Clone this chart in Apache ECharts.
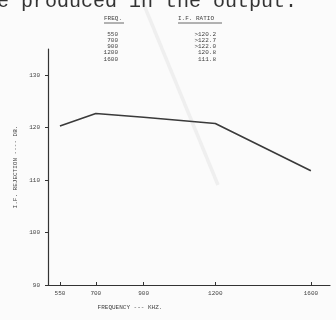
<!DOCTYPE html>
<html><head><meta charset="utf-8">
<script src="https://cdn.jsdelivr.net/npm/echarts@6/dist/echarts.min.js"></script>
<style>html,body{margin:0;padding:0;background:#fbfbfb}#c{width:336px;height:320px}</style>
</head><body><div id="c"></div>
<script>
var frequencies = [550, 700, 900, 1200, 1600];
var rejectionDb = [120.3, 122.7, 122.0, 120.8, 111.8];
var xTicks = [550, 700, 900, 1200, 1600];
var yTicks = [90, 100, 110, 120, 130];
var tableFreq = ['550', '700', '900', '1200', '1600'];
var tableRatio = ['>120.2', '>122.7', '>122.0', '120.8', '111.8'];

var mono = '"Liberation Mono", "DejaVu Sans Mono", monospace';
var ink = '#444';
var chart = echarts.init(document.getElementById('c'), null, {renderer: 'canvas'});

var g = [
  {type: 'line', z: 0, shape: {x1: 142, y1: 0, x2: 218, y2: 185}, style: {stroke: '#efefef', lineWidth: 3.5}},
  {type: 'text', left: -3, top: -8, style: {text: 'e produced in the output.', font: '20px ' + mono, fill: '#333'}},
  {type: 'text', x: 104, y: 15, style: {text: 'FREQ.', font: '6px ' + mono, fill: ink}},
  {type: 'line', shape: {x1: 104, y1: 23, x2: 124, y2: 23}, style: {stroke: ink, lineWidth: 0.8}},
  {type: 'text', x: 178, y: 15, style: {text: 'I.F. RATIO', font: '6px ' + mono, fill: ink}},
  {type: 'line', shape: {x1: 178, y1: 23, x2: 222, y2: 23}, style: {stroke: ink, lineWidth: 0.8}},
  {type: 'text', x: 130, y: 304, style: {text: 'FREQUENCY --- KHZ.', font: '6px ' + mono, fill: ink, align: 'center'}}
];
tableFreq.forEach(function (t, i) {
  g.push({type: 'text', x: 118, y: 31 + i * 6.3, style: {text: t, font: '6px ' + mono, fill: ink, align: 'right'}});
});
tableRatio.forEach(function (t, i) {
  g.push({type: 'text', x: 216, y: 31 + i * 6.3, style: {text: t, font: '6px ' + mono, fill: ink, align: 'right'}});
});

chart.setOption({
  backgroundColor: '#fbfbfb',
  animation: false,
  grid: {left: 48, right: 6, top: 49, bottom: 35},
  xAxis: {
    type: 'value', min: 500, max: 1680,
    axisLine: {lineStyle: {color: '#333', width: 1.2}},
    axisTick: {show: true, inside: true, length: 3, customValues: xTicks, lineStyle: {color: '#333'}},
    splitLine: {show: false},
    axisLabel: {
      customValues: xTicks,
      formatter: function (v) { return String(v); },
      color: ink, fontFamily: mono, fontSize: 6, margin: 5
    }
  },
  yAxis: {
    type: 'value', min: 90, max: 135, interval: 5,
    name: 'I.F. REJECTION ---- DB.', nameLocation: 'middle', nameGap: 25, nameRotate: 90,
    nameTextStyle: {color: ink, fontFamily: mono, fontSize: 6},
    axisLine: {show: true, lineStyle: {color: '#333', width: 1.2}},
    axisTick: {show: true, length: 3, lineStyle: {color: '#333'}, customValues: yTicks},
    splitLine: {show: false},
    axisLabel: {customValues: yTicks, color: ink, fontFamily: mono, fontSize: 6, margin: 8}
  },
  series: [{
    type: 'line',
    data: frequencies.map(function (f, i) { return [f, rejectionDb[i]]; }),
    symbol: 'none',
    lineStyle: {color: '#3a3a3a', width: 1.6}
  }],
  graphic: g
});
</script></body></html>
